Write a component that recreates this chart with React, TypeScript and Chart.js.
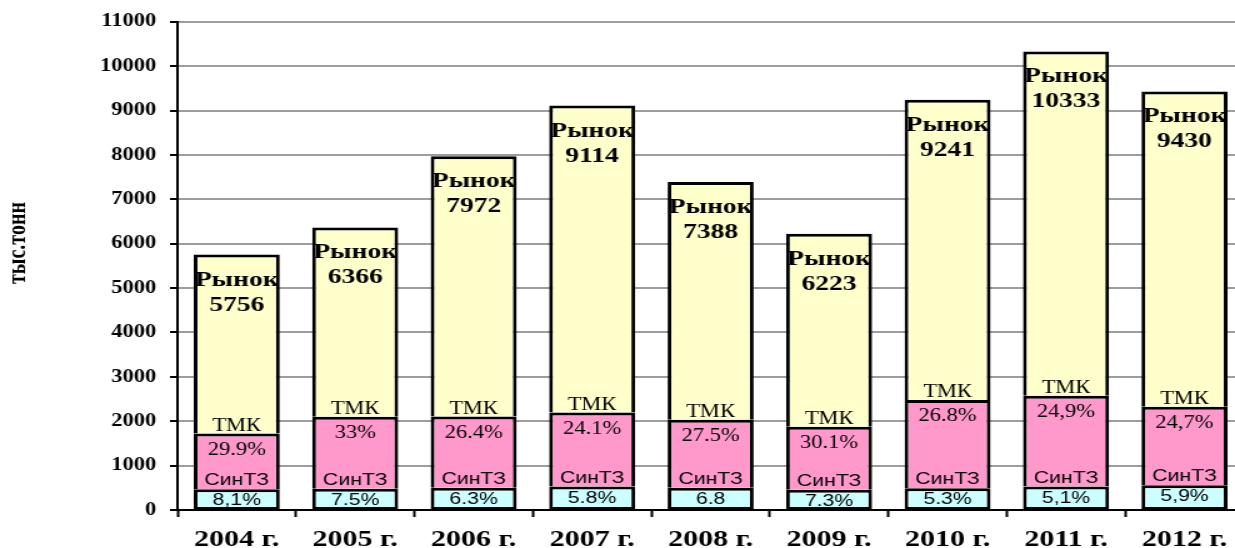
import React, { useEffect, useRef } from 'react';
import { Chart, registerables } from 'chart.js';

Chart.register(...registerables);

// ---- data ----
const categories = ['2004 г.', '2005 г.', '2006 г.', '2007 г.', '2008 г.', '2009 г.', '2010 г.', '2011 г.', '2012 г.'];
// total market ("Рынок"), thousand tonnes
const marketTotals = [5756, 6366, 7972, 9114, 7388, 6223, 9241, 10333, 9430];
// СинТЗ segment (bottom, cyan)
const sintzValues = [466, 477, 502, 529, 502, 454, 490, 527, 556];
// ТМК segment (middle, pink)
const tmkValues = [1255, 1624, 1603, 1667, 1530, 1419, 1987, 2046, 1773];
// share labels as printed
const sintzShares = ['8,1%', '7.5%', '6.3%', '5.8%', '6.8', '7.3%', '5.3%', '5,1%', '5,9%'];
const tmkShares = ['29.9%', '33%', '26.4%', '24.1%', '27.5%', '30.1%', '26.8%', '24,9%', '24,7%'];
const marketLabel = 'Рынок';
const tmkLabel = 'ТМК';
const sintzLabel = 'СинТЗ';
const yTitle = 'тыс.тонн';
const Y_MIN = 0;
const Y_MAX = 11000;
const Y_STEP = 1000;

const STRETCH = 1.25;
const CANVAS_W = 1000;
const CANVAS_H = 548;
const SERIF = '"Liberation Serif", "Times New Roman", serif';
const SANS = '"Liberation Sans", Arial, sans-serif';

export default function App() {
  const ref = useRef<HTMLCanvasElement>(null);

  useEffect(() => {
    const canvas = ref.current;
    if (!canvas) return;
    const marketRest = marketTotals.map((t, i) => t - sintzValues[i] - tmkValues[i]);

    const labelsPlugin = {
      id: 'segLabels',
      afterDatasetsDraw(chart: any) {
        const ctx = chart.ctx as CanvasRenderingContext2D;
        const m0 = chart.getDatasetMeta(0);
        const m1 = chart.getDatasetMeta(1);
        const m2 = chart.getDatasetMeta(2);
        ctx.save();
        ctx.fillStyle = '#000';
        ctx.textAlign = 'center';
        ctx.textBaseline = 'alphabetic';
        categories.forEach((_, i) => {
          const c = m0.data[i];
          const p = m1.data[i];
          const t = m2.data[i];
          const x = c.x;
          ctx.font = `bold 22px ${SERIF}`;
          ctx.fillText(marketLabel, x, t.y + 31);
          ctx.fillText(String(marketTotals[i]), x, t.y + 56);
          ctx.font = `18px ${SERIF}`;
          ctx.fillText(tmkLabel, x, p.y - 3);
          ctx.fillText(tmkShares[i], x, p.y + 21);
          ctx.font = `17px ${SANS}`;
          ctx.fillText(sintzLabel, x, c.y - 4);
          ctx.fillText(sintzShares[i], x, c.y + 16);
        });
        ctx.font = `bold 20px ${SERIF}`;
        ctx.translate(14.5, 243);
        ctx.rotate(-Math.PI / 2);
        ctx.textBaseline = 'middle';
        ctx.fillText(yTitle, 0, 0);
        ctx.restore();
      },
    };

    const seg = (bottom: number) => ({ top: 3, left: 3, right: 3, bottom });

    const chart = new Chart(canvas, {
      type: 'bar',
      data: {
        labels: categories,
        datasets: [
          {
            label: sintzLabel,
            data: sintzValues,
            backgroundColor: '#CCFFFF',
            borderColor: '#000',
            borderWidth: seg(2),
            borderSkipped: false,
          },
          {
            label: tmkLabel,
            data: tmkValues,
            backgroundColor: '#FF99CC',
            borderColor: '#000',
            borderWidth: seg(0),
            borderSkipped: false,
          },
          {
            label: marketLabel,
            data: marketRest,
            backgroundColor: '#FFFFCC',
            borderColor: '#000',
            borderWidth: seg(0),
            borderSkipped: false,
          },
        ],
      },
      options: {
        animation: false,
        responsive: false,
        devicePixelRatio: 1,
        layout: { padding: { left: 0, right: 5, top: 21, bottom: 0 } },
        datasets: { bar: { barPercentage: 0.726, categoryPercentage: 1 } },
        plugins: {
          legend: { display: false },
          tooltip: { enabled: false },
          title: { display: false },
        },
        scales: {
          x: {
            stacked: true,
            offset: true,
            grid: {
              display: true,
              drawOnChartArea: false,
              drawTicks: true,
              tickLength: 7,
              tickColor: '#000',
              tickWidth: 2,
              offset: true,
              color: '#000',
            },
            border: { display: true, color: '#000', width: 2 },
            ticks: {
              color: '#000',
              font: { family: SERIF, size: 24, weight: 'bold' },
              padding: 8,
              maxRotation: 0,
              autoSkip: false,
            },
            afterFit: (s: any) => {
              s.height = 38;
            },
          },
          y: {
            stacked: true,
            min: Y_MIN,
            max: Y_MAX,
            ticks: {
              stepSize: Y_STEP,
              color: '#000',
              font: { family: SERIF, size: 18, weight: 'bold' },
              padding: 11,
              callback: (v: any) => String(v),
            },
            grid: {
              color: '#9d9d9d',
              lineWidth: 2,
              tickColor: '#000',
              tickLength: 6,
              tickWidth: 2,
            },
            border: { display: true, color: '#000', width: 2 },
            afterFit: (s: any) => {
              s.width = 142;
            },
          },
        },
      } as any,
      plugins: [labelsPlugin],
    });

    return () => chart.destroy();
  }, []);

  return (
    <div
      style={{
        position: 'fixed',
        left: 0,
        top: 0,
        width: 1235,
        height: 548,
        overflow: 'hidden',
        background: '#fff',
      }}
    >
      <canvas
        ref={ref}
        width={CANVAS_W}
        height={CANVAS_H}
        style={{
          display: 'block',
          width: `${CANVAS_W}px`,
          height: `${CANVAS_H}px`,
          transform: `scaleX(${STRETCH})`,
          transformOrigin: '0 0',
        }}
      />
    </div>
  );
}
